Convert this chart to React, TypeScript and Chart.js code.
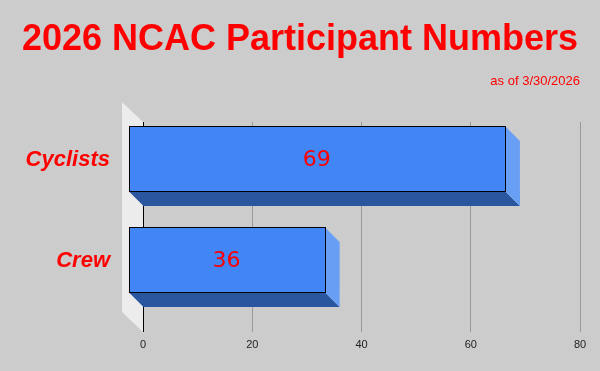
import React, { useEffect, useRef } from 'react';
import { Chart, registerables } from 'chart.js';

Chart.register(...registerables);

// ---- data ----
const categories = ['Cyclists', 'Crew'];
const participants = [69, 36];
const axisMin = 0;
const axisMax = 80;
const axisStep = 20;
const titleText = '2026 NCAC Participant Numbers';
const subtitleText = 'as of 3/30/2026';

// ---- style ----
const RED = '#ff0000';
const FRONT = '#4285f4';
const BOTTOM = '#2a56a0';
const SIDE = '#699ef5';
const WALL = '#ececec';
const DX = 15;
const DY = 15;
const TICK_LEN = 8;

const bars3d = {
  id: 'bars3d',
  beforeDatasetsDraw(chart: any) {
    const { ctx, chartArea } = chart;
    const { left, top, bottom } = chartArea;
    const bt = bottom + TICK_LEN;
    ctx.save();
    ctx.fillStyle = WALL;
    ctx.beginPath();
    ctx.moveTo(left - 21, top - 20);
    ctx.lineTo(left, top);
    ctx.lineTo(left, bt);
    ctx.lineTo(left - 21, bt - 20);
    ctx.closePath();
    ctx.fill();
    ctx.restore();
  },
  afterDatasetsDraw(chart: any) {
    const { ctx } = chart;
    const meta = chart.getDatasetMeta(0);
    const values = chart.data.datasets[0].data;
    ctx.save();
    meta.data.forEach((bar: any, i: number) => {
      const { x, y, base, height } = bar.getProps(['x', 'y', 'base', 'height'], true);
      const bx0 = base;
      const bx1 = x;
      const by0 = y - height / 2 + 1;
      const by1 = y + height / 2 + 1;
      const fx0 = bx0 - DX;
      const fx1 = bx1 - DX;
      const fy0 = by0 - DY;
      const fy1 = by1 - DY;

      // bottom face
      ctx.fillStyle = BOTTOM;
      ctx.beginPath();
      ctx.moveTo(fx0, fy1);
      ctx.lineTo(fx1, fy1);
      ctx.lineTo(bx1, by1);
      ctx.lineTo(bx0, by1);
      ctx.closePath();
      ctx.fill();

      // side face
      ctx.fillStyle = SIDE;
      ctx.beginPath();
      ctx.moveTo(fx1, fy0);
      ctx.lineTo(bx1, by0);
      ctx.lineTo(bx1, by1);
      ctx.lineTo(fx1, fy1);
      ctx.closePath();
      ctx.fill();

      // front face
      const rx0 = Math.round(fx0) + 0.5;
      const rx1 = Math.round(fx1) + 0.5;
      const ry0 = Math.round(fy0) + 0.5;
      const ry1 = Math.round(fy1) + 0.5;
      ctx.fillStyle = FRONT;
      ctx.fillRect(rx0, ry0, rx1 - rx0, ry1 - ry0);
      ctx.strokeStyle = '#000000';
      ctx.lineWidth = 1;
      ctx.strokeRect(rx0, ry0, rx1 - rx0, ry1 - ry0);

      // value label
      ctx.fillStyle = RED;
      ctx.font = '22px "DejaVu Sans", sans-serif';
      ctx.textAlign = 'center';
      ctx.textBaseline = 'middle';
      ctx.fillText(String(values[i]), (fx0 + fx1) / 2, (fy0 + fy1) / 2 + 1.5);
    });
    ctx.restore();
  },
};

export default function App() {
  const canvasRef = useRef<HTMLCanvasElement | null>(null);

  useEffect(() => {
    const canvas = canvasRef.current;
    if (!canvas) return;
    const chart = new Chart(canvas, {
      type: 'bar',
      data: {
        labels: categories,
        datasets: [
          {
            data: participants,
            backgroundColor: 'rgba(0,0,0,0)',
            borderWidth: 0,
            barPercentage: 0.645,
            categoryPercentage: 1,
          },
        ],
      },
      plugins: [bars3d],
      options: {
        indexAxis: 'y',
        responsive: false,
        animation: false,
        devicePixelRatio: 1,
        layout: { padding: 0 },
        plugins: {
          legend: { display: false },
          tooltip: { enabled: false },
          title: {
            display: true,
            text: titleText,
            color: RED,
            font: { family: '"Liberation Sans", Arial, sans-serif', size: 36, weight: 'bold', lineHeight: 1.2 },
            padding: { top: 18, bottom: 10 },
          },
          subtitle: {
            display: true,
            text: subtitleText,
            align: 'end',
            fullSize: false,
            color: RED,
            font: { family: '"Liberation Sans", Arial, sans-serif', size: 13, weight: 'normal', lineHeight: 1.2 },
            padding: { top: 2, bottom: 33.2 },
          },
        },
        scales: {
          x: {
            type: 'linear',
            min: axisMin,
            max: axisMax,
            ticks: {
              stepSize: axisStep,
              color: '#222222',
              padding: 6.5,
              font: { family: '"Liberation Sans", Arial, sans-serif', size: 11 },
            },
            grid: {
              color: (c: any) => (c.tick && c.tick.value === 0 ? '#000000' : '#999999'),
              tickLength: TICK_LEN,
              lineWidth: 1,
            },
            border: { display: false },
            afterFit: (s: any) => {
              s.height = 47;
            },
          },
          y: {
            type: 'category',
            grid: { display: false, drawTicks: false },
            border: { display: false },
            ticks: {
              color: RED,
              padding: 33,
              labelOffset: -13,
              font: { family: '"Liberation Sans", Arial, sans-serif', size: 22, weight: 'bold', style: 'italic' },
            },
            afterFit: (s: any) => {
              s.width = 143;
            },
          },
          pad: {
            type: 'linear',
            position: 'right',
            display: true,
            grid: { display: false, drawTicks: false },
            border: { display: false },
            ticks: { display: false },
            afterFit: (s: any) => {
              s.width = 20;
            },
          },
        },
      } as any,
    });
    return () => chart.destroy();
  }, []);

  return (
    <div
      style={{
        position: 'fixed',
        left: 0,
        top: 0,
        width: 600,
        height: 371,
        background: '#cccccc',
      }}
    >
      <canvas ref={canvasRef} width={600} height={371} style={{ display: 'block' }} />
    </div>
  );
}
